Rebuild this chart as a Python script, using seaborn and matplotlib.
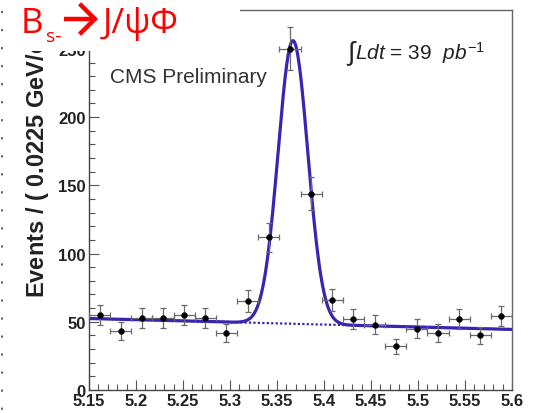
import numpy as np
import pandas as pd
import matplotlib
matplotlib.use("Agg")
import matplotlib.pyplot as plt
import seaborn as sns
from matplotlib.patches import Rectangle, FancyArrowPatch
from matplotlib.lines import Line2D

# ---- data ----
bin_centers = [5.16125, 5.18375, 5.20625, 5.22875, 5.25125, 5.27375, 5.29625,
               5.31875, 5.34125, 5.36375, 5.38625, 5.40875, 5.43125, 5.45375,
               5.47625, 5.49875, 5.52125, 5.54375, 5.56625, 5.58875]
events = [55, 43, 53, 53, 55, 53, 42, 65, 112, 250, 144, 66, 52, 48, 32, 45, 42, 52, 40, 54]
event_err = [7.4, 6.6, 7.3, 7.3, 7.4, 7.3, 6.5, 8.1, 10.6, 15.8, 12.0, 8.1, 7.2, 6.9,
             5.7, 6.7, 6.5, 7.2, 6.3, 7.3]
bin_half_width = 0.01125

# fit model parameters (gaussian signal + linear background)
bkg_at_lo = 52.4      # background at 5.15
bkg_at_hi = 44.4      # background at 5.60
sig_mean = 5.367
sig_sigma = 0.0158
sig_amp = 207.5

x_ticks = [5.15, 5.2, 5.25, 5.3, 5.35, 5.4, 5.45, 5.5, 5.55, 5.6]
x_tick_labels = ["5.15", "5.2", "5.25", "5.3", "5.35", "5.4", "5.45", "5.5", "5.55", "5.6"]
y_ticks = [0, 50, 100, 150, 200, 250]

W, H = 543, 414
sns.set_theme(style="ticks")
plt.rcParams["font.family"] = ["Liberation Sans", "DejaVu Sans"]
plt.rcParams["mathtext.fontset"] = "custom"
plt.rcParams["mathtext.rm"] = "Liberation Sans"
plt.rcParams["mathtext.it"] = "Liberation Sans:italic"
plt.rcParams["mathtext.bf"] = "Liberation Sans:bold"

fig = plt.figure(figsize=(W / 100, H / 100), dpi=100)
fig.patch.set_facecolor("white")
ax = fig.add_axes([89 / W, 1 - 391 / H, (512 - 89) / W, (391 - 11) / H])
ax.set_facecolor("white")

xlo, xhi = 5.15, 5.6
xs = np.linspace(xlo, xhi, 600)
bkg = bkg_at_lo + (bkg_at_hi - bkg_at_lo) * (xs - xlo) / (xhi - xlo)
total = bkg + sig_amp * np.exp(-0.5 * ((xs - sig_mean) / sig_sigma) ** 2)
curve_df = pd.DataFrame({"x": xs, "bkg": bkg, "total": total})

fit_color = "#3d22b3"
sns.lineplot(data=curve_df, x="x", y="bkg", ax=ax, color=fit_color, lw=1.6,
             linestyle=(0, (1.0, 1.0)), zorder=2)
sns.lineplot(data=curve_df, x="x", y="total", ax=ax, color=fit_color, lw=2.3, zorder=3)

ax.errorbar(bin_centers, events, yerr=event_err, xerr=bin_half_width, fmt="none",
            ecolor="#6a6a6a", elinewidth=0.9, capsize=2.2, capthick=0.9, zorder=4)
pts = pd.DataFrame({"x": bin_centers, "y": events})
sns.scatterplot(data=pts, x="x", y="y", ax=ax, color="black", s=18, edgecolor="black",
                linewidth=0.3, zorder=5)

ax.set_xlim(xlo, xhi)
ax.set_ylim(0, 278.5)
ax.set_xlabel("")
ax.set_ylabel("")
ax.set_xticks(x_ticks)
ax.set_xticklabels(x_tick_labels)
ax.set_yticks(y_ticks)
ax.set_xticks(np.arange(5.15, 5.6001, 0.01), minor=True)
ax.set_yticks(np.arange(0, 278, 10), minor=True)
ax.tick_params(axis="both", which="major", direction="in", length=7.2, width=0.8,
               color="#555555", labelsize=12, pad=2.5)
ax.tick_params(axis="both", which="minor", direction="in", length=4.3, width=0.8,
               color="#555555")
for lab in ax.get_xticklabels() + ax.get_yticklabels():
    lab.set_fontweight("bold")
    lab.set_color("#222222")
for sp in ax.spines.values():
    sp.set_visible(True)
    sp.set_color("#666666")
    sp.set_linewidth(1.0)
ax.spines["left"].set_color("#444444")
ax.spines["bottom"].set_color("#444444")

# texts inside plot
ax.text(110 / W, 1 - 78 / H, "CMS Preliminary", transform=fig.transFigure,
        fontsize=15, color="#333333", ha="left", va="center")
ax.text(346 / W, 1 - 60 / H, r"$\int$", transform=fig.transFigure, fontsize=19,
        color="#222222", ha="left", va="baseline", family=["DejaVu Sans"])
ax.text(355 / W, 1 - 60 / H, r"$Ldt$ = 39  $pb^{\mathregular{-1}}$",
        transform=fig.transFigure, fontsize=15, color="#222222", ha="left", va="baseline")

# y label (partly hidden under the title box)
fig.text(37 / W, 1 - 298 / H, r"Events / ( 0.0225 GeV/c$^{\mathbf{2}}$ )", rotation=90,
         fontsize=17, fontweight="bold", color="#222222", ha="center", va="bottom",
         zorder=1)

# white title box + red title
fig.add_artist(Rectangle((0, 1 - 52 / H), 240 / W, 52 / H, transform=fig.transFigure,
                         facecolor="white", edgecolor="none", zorder=5))
red = "#ff0000"
tfam = ["Open Sans", "DejaVu Sans"]
fig.text(21 / W, 1 - 33 / H, "B", fontsize=25, color=red, family=tfam,
         ha="left", va="baseline", zorder=6)
fig.text(46 / W, 1 - 42 / H, "s-", fontsize=14, color=red, family=tfam,
         ha="left", va="baseline", zorder=6)
fig.add_artist(FancyArrowPatch(
    (64 / W, 1 - 20 / H), (98 / W, 1 - 20 / H), transform=fig.transFigure,
    arrowstyle="->,head_length=0.55,head_width=0.55", mutation_scale=20,
    color=red, lw=3.2, zorder=6, shrinkA=0, shrinkB=0, capstyle="butt",
    joinstyle="miter"))
fig.text(103 / W, 1 - 33 / H, "J/ψΦ", fontsize=25, color=red, family=tfam,
         ha="left", va="baseline", zorder=6)

# dashed marks along the left edge
fig.add_artist(Line2D([1.5 / W, 1.5 / W], [1 - 12 / H, 0], transform=fig.transFigure,
                      color="#333333", lw=1.1, linestyle=(0, (1.4, 10.4)), zorder=7))

fig.savefig("out.png", dpi=100)
